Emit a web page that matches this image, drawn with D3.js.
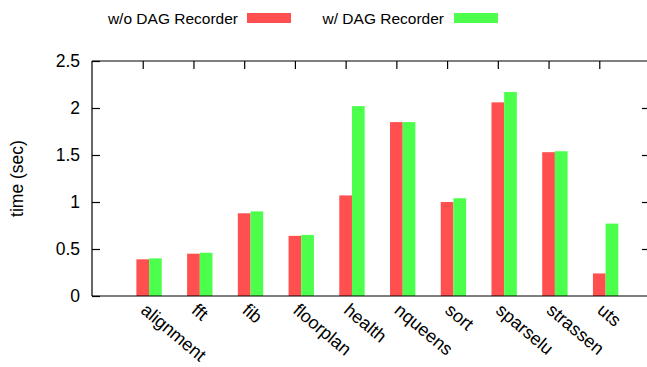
<!DOCTYPE html>
<html>
<head>
<meta charset="utf-8">
<script src="https://cdn.jsdelivr.net/npm/d3@7"></script>
<style>
  html, body { margin: 0; padding: 0; background: #fff; }
  svg { display: block; font-family: "Liberation Sans", Arial, Helvetica, sans-serif; }
</style>
</head>
<body>
<svg id="chart" width="647" height="367"></svg>
<script>
// Benchmarks and run times (seconds)
const benchmarks = ["alignment", "fft", "fib", "floorplan", "health", "nqueens", "sort", "sparselu", "strassen", "uts"];
const withoutRecorder = [0.39, 0.45, 0.88, 0.64, 1.07, 1.85, 1.00, 2.06, 1.53, 0.24];
const withRecorder    = [0.40, 0.46, 0.90, 0.65, 2.02, 1.85, 1.04, 2.17, 1.54, 0.77];
const yTicks = [0, 0.5, 1, 1.5, 2, 2.5];
const seriesNames = ["w/o DAG Recorder", "w/ DAG Recorder"];
const seriesColors = ["#ff4f4f", "#4dff4d"];

const svg = d3.select("#chart");
const margin = { left: 92, right: 650, top: 61, bottom: 296 };
const FONT = "'Liberation Sans', Arial, sans-serif";

const x = d3.scaleLinear().domain([-1, benchmarks.length]).range([margin.left, margin.right]);
const y = d3.scaleLinear().domain([0, 2.5]).range([margin.bottom, margin.top]);
const barW = 0.25; // bar width in category units

const series = [withoutRecorder, withRecorder];

// Bars: first series centred on the category, second series right next to it
series.forEach((vals, s) => {
  svg.append("g")
    .selectAll("rect")
    .data(vals)
    .join("rect")
    .attr("x", (d, i) => x(i + s * barW - barW / 2))
    .attr("width", (d, i) => x(i + s * barW + barW / 2) - x(i + s * barW - barW / 2))
    .attr("y", d => y(d))
    .attr("height", d => y(0) - y(d))
    .attr("fill", seriesColors[s]);
});

// Frame: left, bottom and top lines (right edge sits just past the canvas)
const frame = svg.append("g").attr("stroke", "#000").attr("stroke-width", 1.2).attr("fill", "none");
frame.append("line").attr("x1", margin.left).attr("x2", margin.left).attr("y1", margin.top).attr("y2", margin.bottom);
frame.append("line").attr("x1", margin.left).attr("x2", margin.right).attr("y1", margin.bottom).attr("y2", margin.bottom);
frame.append("line").attr("x1", margin.left).attr("x2", margin.right).attr("y1", margin.top).attr("y2", margin.top);
frame.append("line").attr("x1", margin.right).attr("x2", margin.right).attr("y1", margin.top).attr("y2", margin.bottom);

// Y axis: inward ticks on the left, mirrored on the right
const yAxis = d3.axisLeft(y).tickValues(yTicks).tickSize(-8).tickPadding(12).tickFormat(d3.format("~g"));
const yg = svg.append("g").attr("transform", `translate(${margin.left},0)`).call(yAxis);
yg.select(".domain").remove();
yg.selectAll(".tick line").attr("stroke", "#000").attr("stroke-width", 1.2);
yg.selectAll(".tick text").attr("font-size", 17.5).attr("fill", "#000").attr("font-family", FONT);

const yMirror = d3.axisRight(y).tickValues(yTicks.slice(1, -1)).tickSize(-8).tickFormat("");
const ym = svg.append("g").attr("transform", `translate(${margin.right},0)`).call(yMirror);
ym.select(".domain").remove();
ym.selectAll(".tick line").attr("stroke", "#000").attr("stroke-width", 1.2);

// X axis: mirrored ticks along the top, labels rotated below the bottom edge
const xTop = d3.axisTop(x).tickValues(d3.range(benchmarks.length)).tickSize(-8).tickFormat("");
const xt = svg.append("g").attr("transform", `translate(0,${margin.top})`).call(xTop);
xt.select(".domain").remove();
xt.selectAll(".tick line").attr("stroke", "#000").attr("stroke-width", 1.2);

svg.append("g")
  .selectAll("text")
  .data(benchmarks)
  .join("text")
  .attr("transform", (d, i) => `translate(${x(i) - 3},${margin.bottom + 16}) rotate(40)`)
  .attr("font-size", 18)
  .attr("fill", "#000")
  .attr("text-anchor", "start")
  .text(d => d);

// Y axis title
svg.append("text")
  .attr("transform", `translate(23,${(margin.top + margin.bottom) / 2}) rotate(-90)`)
  .attr("text-anchor", "middle")
  .attr("font-size", 17.5)
  .attr("fill", "#000")
  .text("time (sec)");

// Legend along the top
const legendItems = [
  { textEnd: 238, swatch: 247 },
  { textEnd: 444, swatch: 454 }
];
legendItems.forEach((it, s) => {
  svg.append("text")
    .attr("x", it.textEnd)
    .attr("y", 24)
    .attr("text-anchor", "end")
    .attr("font-size", 15.5)
    .attr("fill", "#000")
    .text(seriesNames[s]);
  svg.append("rect")
    .attr("x", it.swatch)
    .attr("y", 13)
    .attr("width", 44)
    .attr("height", 10)
    .attr("fill", seriesColors[s]);
});
</script>
</body>
</html>
